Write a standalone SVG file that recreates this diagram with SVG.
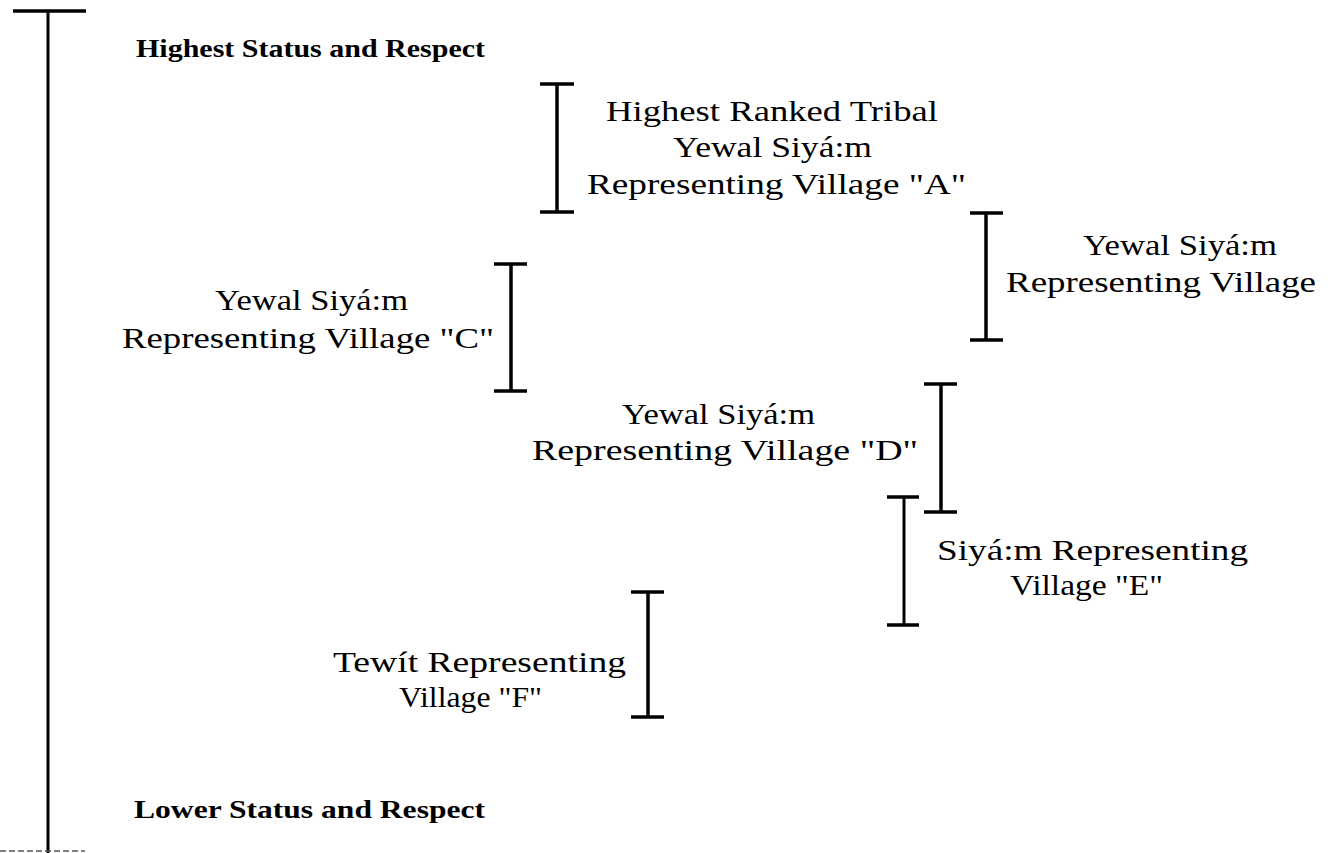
<svg xmlns="http://www.w3.org/2000/svg" width="1335" height="853" viewBox="0 0 1335 853">
<style>
  .bg { fill: #ffffff; }
  .ln { stroke: #000; stroke-width: 3.5; fill: none; stroke-linecap: butt; }
  .t { font-family: "Liberation Serif", "Times New Roman", serif; font-size: 30px; fill: #000; }
  .b { font-family: "Liberation Serif", "Times New Roman", serif; font-size: 26px; font-weight: bold; fill: #000; }
</style>
<rect class="bg" x="0" y="0" width="1335" height="853"/>

<g id="connectors">
  <g id="scale-axis">
    <line class="ln" x1="48" y1="11" x2="48" y2="853" style="stroke-width:3"/>
    <line class="ln" x1="13" y1="11" x2="86" y2="11"/>
    <line x1="0" y1="851" x2="85" y2="851" stroke="#555" stroke-width="1.5" stroke-dasharray="6 3"/>
  </g>
  <g id="bracket-A">
    <line class="ln" x1="557" y1="84" x2="557" y2="212"/>
    <line class="ln" x1="540" y1="84" x2="574" y2="84"/>
    <line class="ln" x1="540" y1="212" x2="574" y2="212"/>
  </g>
  <g id="bracket-B">
    <line class="ln" x1="986" y1="213" x2="986" y2="340"/>
    <line class="ln" x1="970" y1="213" x2="1003" y2="213"/>
    <line class="ln" x1="970" y1="340" x2="1003" y2="340"/>
  </g>
  <g id="bracket-C">
    <line class="ln" x1="511" y1="264" x2="511" y2="391"/>
    <line class="ln" x1="494" y1="264" x2="527" y2="264"/>
    <line class="ln" x1="494" y1="391" x2="527" y2="391"/>
  </g>
  <g id="bracket-D">
    <line class="ln" x1="941" y1="384" x2="941" y2="512"/>
    <line class="ln" x1="924" y1="384" x2="957" y2="384"/>
    <line class="ln" x1="924" y1="512" x2="957" y2="512"/>
  </g>
  <g id="bracket-E">
    <line class="ln" x1="904" y1="497" x2="904" y2="625" style="stroke-width:3"/>
    <line class="ln" x1="887" y1="497" x2="919" y2="497"/>
    <line class="ln" x1="887" y1="625" x2="919" y2="625"/>
  </g>
  <g id="bracket-F">
    <line class="ln" x1="648" y1="592" x2="648" y2="717"/>
    <line class="ln" x1="631" y1="592" x2="664" y2="592"/>
    <line class="ln" x1="631" y1="717" x2="664" y2="717"/>
  </g>
</g>

<g id="label-top">
  <text class="b" x="136" y="57" textLength="349" lengthAdjust="spacingAndGlyphs">Highest Status and Respect</text>
</g>
<g id="label-bottom">
  <text class="b" x="134" y="818" textLength="351" lengthAdjust="spacingAndGlyphs">Lower Status and Respect</text>
</g>

<g id="node-A">
  <text class="t" x="606" y="121" textLength="332" lengthAdjust="spacingAndGlyphs">Highest Ranked Tribal</text>
  <text class="t" x="673" y="157" textLength="199" lengthAdjust="spacingAndGlyphs">Yewal Siyá:m</text>
  <text class="t" x="587" y="194" textLength="379" lengthAdjust="spacingAndGlyphs">Representing  Village "A"</text>
</g>
<g id="node-B">
  <text class="t" x="1083" y="255" textLength="194" lengthAdjust="spacingAndGlyphs">Yewal Siyá:m</text>
  <text class="t" x="1006" y="292" textLength="310" lengthAdjust="spacingAndGlyphs">Representing  Village</text>
</g>
<g id="node-C">
  <text class="t" x="215" y="310" textLength="193" lengthAdjust="spacingAndGlyphs">Yewal Siyá:m</text>
  <text class="t" x="122" y="348" textLength="372" lengthAdjust="spacingAndGlyphs">Representing  Village "C"</text>
</g>
<g id="node-D">
  <text class="t" x="622" y="424" textLength="193" lengthAdjust="spacingAndGlyphs">Yewal Siyá:m</text>
  <text class="t" x="532" y="460" textLength="386" lengthAdjust="spacingAndGlyphs">Representing  Village "D"</text>
</g>
<g id="node-E">
  <text class="t" x="937" y="560" textLength="311" lengthAdjust="spacingAndGlyphs">Siyá:m  Representing</text>
  <text class="t" x="1010" y="595" textLength="153" lengthAdjust="spacingAndGlyphs">Village "E"</text>
</g>
<g id="node-F">
  <text class="t" x="333" y="672" textLength="293" lengthAdjust="spacingAndGlyphs">Tewít Representing</text>
  <text class="t" x="399" y="707" textLength="143" lengthAdjust="spacingAndGlyphs">Village "F"</text>
</g>
</svg>
